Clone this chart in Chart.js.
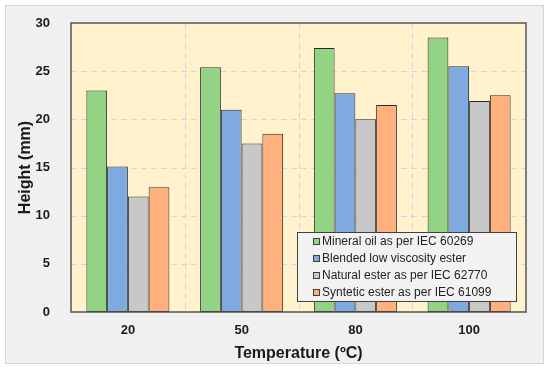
<!DOCTYPE html>
<html>
<head>
<meta charset="utf-8">
<script src="https://cdn.jsdelivr.net/npm/chart.js@4"></script>
<style>
  html, body { margin: 0; padding: 0; background: #fff; }
  #wrap { width: 550px; height: 371px; }
</style>
</head>
<body>
<div id="wrap"><canvas id="chart" width="550" height="371"></canvas></div>
<script>
// data
const temperatures = ['20', '50', '80', '100'];
const mineralOil = [23.0, 25.4, 27.4, 28.5];
const blendedEster = [15.1, 21.0, 22.7, 25.5];
const naturalEster = [12.0, 17.5, 20.0, 21.9];
const synteticEster = [12.95, 18.5, 21.5, 22.5];
const yTicks = [0, 5, 10, 15, 20, 25, 30];

const seriesNames = [
    'Mineral oil as per IEC 60269',
    'Blended low viscosity ester',
    'Natural ester as per IEC 62770',
    'Syntetic ester as per IEC 61099'
];
const seriesColors = ['#93d384', '#7eaadf', '#c8c8c8', '#ffb07c'];
const seriesValues = [mineralOil, blendedEster, naturalEster, synteticEster];

const FONT = 'Liberation Sans, Arial, sans-serif';

// panel background, plot background, dashed grid and plot border
const framePlugin = {
    id: 'frame',
    beforeDraw(chart) {
        const ctx = chart.ctx;
        const a = chart.chartArea;
        ctx.save();
        ctx.fillStyle = '#f0f0f0';
        ctx.fillRect(5, 5, 538, 358);
        ctx.strokeStyle = '#d6d6d6';
        ctx.lineWidth = 1;
        ctx.strokeRect(5.5, 5.5, 538, 358);
        ctx.fillStyle = '#fff2cc';
        ctx.fillRect(a.left, a.top, a.right - a.left, a.bottom - a.top);
        ctx.restore();
    },
    beforeDatasetsDraw(chart) {
        // dashed grid lines
        const ctx = chart.ctx;
        const a = chart.chartArea;
        const xs = chart.scales.x, ys = chart.scales.y;
        ctx.save();
        ctx.strokeStyle = '#d3d6e0';
        ctx.lineWidth = 1;
        ctx.setLineDash([6, 4]);
        yTicks.slice(1, -1).forEach(v => {
            const py = Math.round(ys.getPixelForValue(v)) + 0.5;
            ctx.beginPath();
            ctx.moveTo(a.left, py);
            ctx.lineTo(a.right, py);
            ctx.stroke();
        });
        for (let i = 1; i < temperatures.length; i++) {
            const px = Math.round((xs.getPixelForTick(i - 1) + xs.getPixelForTick(i)) / 2) + 0.5;
            ctx.beginPath();
            ctx.moveTo(px, a.top);
            ctx.lineTo(px, a.bottom);
            ctx.stroke();
        }
        ctx.restore();
    },
    afterDraw(chart) {
        const ctx = chart.ctx;
        const a = chart.chartArea;
        ctx.save();
        ctx.strokeStyle = '#555555';
        ctx.lineWidth = 1.5;
        ctx.strokeRect(a.left, a.top, a.right - a.left, a.bottom - a.top);
        ctx.restore();
    }
};

// legend box floating inside the plot
const boxLegend = {
    id: 'boxLegend',
    afterDraw(chart) {
        const ctx = chart.ctx;
        const x = 297, y = 232, w = 219, h = 69;
        ctx.save();
        ctx.fillStyle = '#f2f2f2';
        ctx.fillRect(x, y, w, h);
        ctx.strokeStyle = '#404040';
        ctx.lineWidth = 1;
        ctx.strokeRect(x + 0.5, y + 0.5, w, h);
        ctx.font = '12px ' + FONT;
        ctx.textBaseline = 'middle';
        chart.data.datasets.forEach((ds, i) => {
            const cy = y + 9 + i * 17;
            ctx.fillStyle = ds.backgroundColor;
            ctx.fillRect(x + 16, cy - 3, 6, 6);
            ctx.strokeStyle = '#404040';
            ctx.strokeRect(x + 16.5, cy - 2.5, 6, 6);
            ctx.fillStyle = '#222';
            ctx.fillText(ds.label, x + 25, cy + 1);
        });
        ctx.restore();
    }
};

new Chart(document.getElementById('chart'), {
    type: 'bar',
    data: {
        labels: temperatures,
        datasets: seriesValues.map((vals, i) => ({
            label: seriesNames[i],
            data: vals,
            backgroundColor: seriesColors[i],
            borderColor: '#2a2a2a',
            borderWidth: 1,
            borderSkipped: false,
            categoryPercentage: 0.73,
            barPercentage: 1.0
        }))
    },
    options: {
        responsive: false,
        animation: false,
        layout: { padding: { left: 0, top: 23, right: 24, bottom: 0 } },
        plugins: { legend: { display: false }, tooltip: { enabled: false } },
        scales: {
            x: {
                offset: true,
                grid: { display: false },
                border: { display: false },
                ticks: {
                    color: '#1a1a1a',
                    font: { family: FONT, size: 13, weight: 'bold' },
                    padding: 3
                },
                title: {
                    display: true,
                    text: 'Temperature (ºC)',
                    color: '#1a1a1a',
                    font: { family: FONT, size: 16, weight: 'bold' },
                    padding: { top: 4, bottom: 8 }
                },
                afterFit(scale) { scale.height = 59; }
            },
            y: {
                min: 0,
                max: 30,
                afterBuildTicks(scale) { scale.ticks = yTicks.map(v => ({ value: v })); },
                grid: { display: false },
                border: { display: false },
                ticks: {
                    color: '#1a1a1a',
                    font: { family: FONT, size: 13, weight: 'bold' },
                    padding: 13
                },
                title: {
                    display: true,
                    text: 'Height (mm)',
                    color: '#1a1a1a',
                    font: { family: FONT, size: 16, weight: 'bold' },
                    padding: { top: 16, bottom: 4 }
                },
                afterFit(scale) { scale.width = 71; }
            }
        }
    },
    plugins: [framePlugin, boxLegend]
});
</script>
</body>
</html>
